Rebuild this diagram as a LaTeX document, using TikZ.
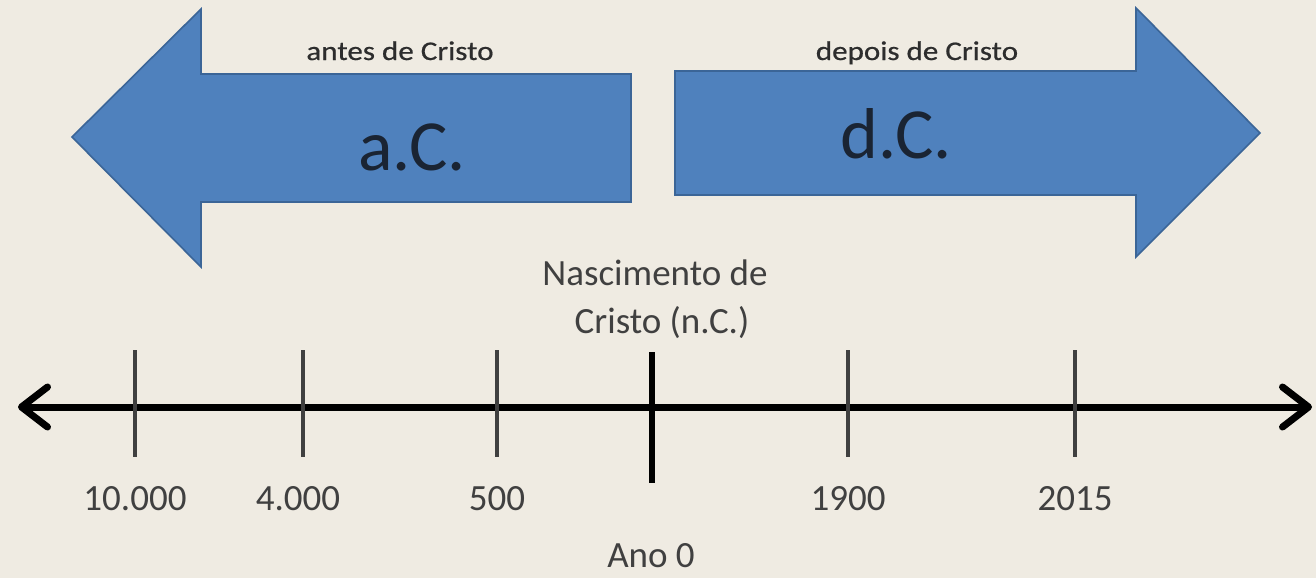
\documentclass[tikz,border=0pt]{standalone}
\usepackage{fontspec}
\setmainfont{Carlito}
\newfontfamily\widefont[FakeStretch=1.15,FakeBold=0.6]{Carlito}
\usetikzlibrary{arrows.meta}
\definecolor{bgc}{HTML}{EFEBE2}
\definecolor{arrfill}{HTML}{4F81BD}
\definecolor{arrline}{HTML}{3B6597}
\definecolor{txtgray}{HTML}{404040}
\definecolor{bigtxt}{HTML}{1A2433}
\tikzset{
  bigarrow/.style={fill=arrfill,draw=arrline,line width=0.8pt,line join=miter},
  smalllbl/.style={font=\widefont\fontsize{13.5}{16}\selectfont,text=txtgray!70!black,anchor=base,inner sep=0pt},
  biglbl/.style={font=\fontsize{36}{40}\selectfont,text=bigtxt,anchor=base,inner sep=0pt},
  axislbl/.style={font=\fontsize{18.5}{22}\selectfont,text=txtgray,anchor=base,inner sep=0pt},
  axis/.style={line width=3.5pt,black,{Straight Barb[length=13pt,width=20pt,round]}-{Straight Barb[length=13pt,width=20pt,round]}},
  thintick/.style={line width=1.6pt,txtgray},
  thicktick/.style={line width=2.6pt,black},
}
\begin{document}
\begin{tikzpicture}[x=0.5pt,y=-0.5pt]
\fill[bgc] (0,0) rectangle (1316,578);
\useasboundingbox (0,0) rectangle (1316,578);
% big arrows
\draw[bigarrow] (72,137) -- (201,9) -- (201,74) -- (631,74) -- (631,202) -- (201,202) -- (201,267) -- cycle;
\draw[bigarrow] (675,71) -- (1136,71) -- (1136,8) -- (1260,133) -- (1136,257) -- (1136,195) -- (675,195) -- cycle;
\node[smalllbl] (antes) at (400,60) {antes de Cristo};
\node[smalllbl] (depois) at (917,60) {depois de Cristo};
\node[biglbl] (ac) at (412,170) {a.C.};
\node[biglbl] (dc) at (896,158) {d.C.};
% axis
\coordinate (axL) at (18,407);
\coordinate (axR) at (1312,407);
\draw[axis] (axL) -- (axR);
% ticks
\foreach \x/\n in {135/t1,303/t2,497/t3,848/t5,1075/t6}{
  \coordinate (\n top) at (\x,350);
  \coordinate (\n bot) at (\x,457);
  \draw[thintick] (\n top) -- (\n bot);
}
\coordinate (t4top) at (652,352);
\coordinate (t4bot) at (652,483);
\draw[thicktick] (t4top) -- (t4bot);
% labels
\node[axislbl] (nasc) at (655,285) {Nascimento de};
\node[axislbl] (cris) at (662,333) {Cristo (n.C.)};
\node[axislbl] (l1) at (135,510) {10.000};
\node[axislbl] (l2) at (298,510) {4.000};
\node[axislbl] (l3) at (497,510) {500};
\node[axislbl] (l5) at (848,510) {1900};
\node[axislbl] (l6) at (1075,510) {2015};
\node[axislbl] (ano) at (651,567) {Ano 0};
\end{tikzpicture}
\end{document}
